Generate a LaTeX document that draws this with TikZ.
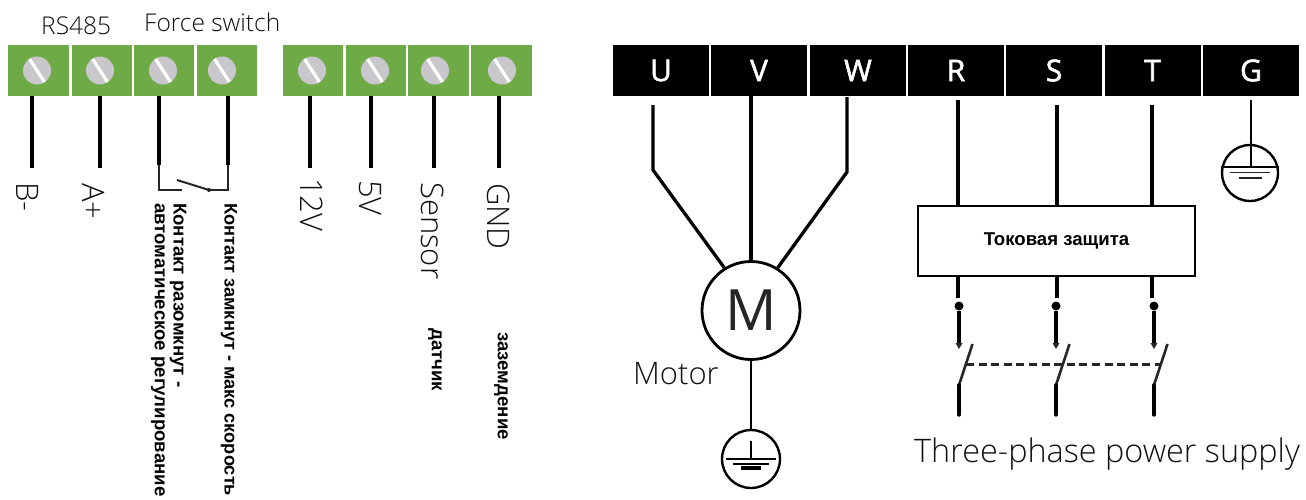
\documentclass[tikz,border=0pt]{standalone}
\usepackage{fontspec}
\setmainfont{Open Sans}
\newfontfamily\lightf{Open Sans Light}
\newfontfamily\semif[FakeBold=1.8]{Open Sans}
\newfontfamily\boldcyr{Liberation Sans}
\usetikzlibrary{calc,arrows.meta}
\definecolor{termgreen}{HTML}{6EAB46}
\definecolor{screwgray}{HTML}{C9C6CC}
\definecolor{lighttext}{HTML}{111111}
\tikzset{
  x=1pt,y=-1pt,
  termbox/.style={draw=none,fill=termgreen,minimum width=60.5pt,minimum height=51pt,inner sep=0,outer sep=0},
  screw/.style={circle,fill=screwgray,minimum size=28pt,inner sep=0,path picture={\draw[white,line width=3.2pt] ($(path picture bounding box.north west)+(3,-3)$) -- ($(path picture bounding box.south east)+(-3,3)$);}},
  phase/.style={fill=black,text=white,minimum width=96pt,minimum height=51pt,inner sep=0,outer sep=0,font=\semif\fontsize{30}{30}\selectfont},
  wire/.style={draw=black,line width=3.3pt},
  thinwire/.style={draw=black!85,line width=2.6pt},
  vlabel/.style={rotate=-90,anchor=west,inner sep=0,text=lighttext,font=\lightf\fontsize{31}{31}\selectfont},
  cyrlabel/.style={rotate=-90,anchor=west,inner sep=0,text=black,font=\boldcyr\fontsize{18.6}{18.6}\selectfont\bfseries},
  toplabel/.style={anchor=base west,inner sep=0,text=lighttext,font=\lightf\fontsize{24.5}{24.5}\selectfont},
  biglabel/.style={anchor=base west,inner sep=0,text=lighttext,font=\lightf\fontsize{31}{31}\selectfont},
  gcircle/.style={circle,draw=black,line width=2.4pt,inner sep=0,fill=white},
  tinydot/.style={circle,fill=black,inner sep=0,minimum size=9pt},
}
\begin{document}
\begin{tikzpicture}
\useasboundingbox (0,0) rectangle (1306,499);
\fill[white] (0,0) rectangle (1306,499);
% terminal blocks
\foreach \n/\cx/\sx in {a/38.5/37,b/102/100,c/164/163,d/227/222,e/313/312,f/376/375,g/438.5/435,h/501.5/502}{
  \node[termbox] (t\n) at (\cx,70.5) {};
  \node[screw] (s\n) at (\sx,70.5) {};
}
\node[toplabel] (rs) at (41,34) {RS485};
\node[toplabel] (fs) at (144,31) {Force switch};
% wire ends
\coordinate (wa) at (32,168);
\coordinate (wb) at (100,168);
\coordinate (we) at (310,168);
\coordinate (wf) at (371,168);
\coordinate (wg) at (434,168);
\coordinate (wh) at (499,168);
\foreach \n in {a,b,e,f,g,h} \draw[wire] (t\n.south -| w\n) -- (w\n);
% force switch
\coordinate (swl) at (159,190);
\coordinate (swle) at (182,190);
\coordinate (swr) at (228,190);
\coordinate (swrb) at (209,190);
\coordinate (swb) at (177,180);
\draw[wire] (tc.south -| swl) -- (159,165);
\draw[wire] (td.south -| swr) -- (228,165);
\draw[thinwire,line width=2pt] (159,165) -- (swl) -- (swle);
\draw[thinwire,line width=2pt] (228,165) -- (swr) -- (swrb);
\draw[thinwire,line width=2pt] (swb) -- (swrb);
\fill[black!85] (swrb) circle (2);
% vertical labels
\node[vlabel] (lb) at (28,182) {B-};
\node[vlabel] (la) at (94,183) {A+};
\node[vlabel] (l12) at (312,178) {12V};
\node[vlabel] (l5) at (370,180) {5V};
\node[vlabel] (ls) at (433,182) {Sensor};
\node[vlabel] (lg) at (499,183) {GND};
\node[cyrlabel] (c1) at (178,203) {Контакт разомкнут -};
\node[cyrlabel] (c2) at (158,203) {автоматическое регулирование};
\node[cyrlabel,font=\boldcyr\fontsize{18.2}{18.2}\selectfont\bfseries] (c3) at (229,203) {Контакт замкнут - макс скорость};
\node[cyrlabel] (c4) at (435,328) {датчик};
\node[cyrlabel] (c5) at (501,332) {заземдение};
% phase bar
\node[phase] (U) at (661,70.5) {U};
\node[phase] (V) at (759,70.5) {V};
\node[phase] (W) at (858,70.5) {W};
\node[phase] (R) at (956,70.5) {R};
\node[phase] (S) at (1054,70.5) {S};
\node[phase] (T) at (1152.5,70.5) {T};
\node[phase] (G) at (1251,70.5) {G};
% motor
\node[circle,draw=black,line width=2.8pt,minimum size=98pt,inner sep=0,fill=white,font=\fontsize{57}{57}\selectfont,text=black!85] (M) at (751,310.5) {M};
\node[biglabel] (mot) at (633,384) {Motor};
\coordinate (u0) at (653,105);
\coordinate (u1) at (653,170);
\coordinate (w0) at (847,97);
\coordinate (w1) at (847,172);
\draw[wire,line join=round] (u0) -- (u1) -- (M.122);
\draw[wire] (V.south -| M) -- (M.north);
\draw[wire,line join=round] (w0) -- (w1) -- (M.58);
% motor ground
\node[gcircle,minimum size=58pt] (g1) at (751,459) {};
\draw[line width=2.6pt,black] (M.south) -- (g1.north);
\draw[line width=2pt,black] (751,441) -- (751,459);
\draw[line width=2pt,black] (726,459) -- (776,459);
\draw[line width=2pt,black] (733,464) -- (769,464);
\draw[line width=3.5pt,black] (741,468) -- (761,468);
% G ground
\coordinate (g0) at (1251,100);
\node[gcircle,minimum size=56pt,fill=none] (g2) at (1250,173) {};
\draw[wire,line width=2.6pt] (g0) -- (1251,167);
\draw[line width=2pt,black] (1221,167) -- (1279,167);
\draw[line width=1.8pt,black!85] (1230,172.5) -- (1270,172.5);
\draw[line width=1.8pt,black!85] (1239,178) -- (1262,178);
% protection box
\node[draw=black,line width=2pt,minimum width=277pt,minimum height=70pt,inner sep=0,fill=white,font=\boldcyr\fontsize{18.6}{18.6}\selectfont\bfseries] (box) at (1056.5,241) {Токовая защита};
\coordinate (r0) at (958,100);
\coordinate (s0) at (1057,105);
\coordinate (t0) at (1152,105);
\foreach \p in {r,s,t} \draw[wire] (\p0) -- (box.north -| \p0);
% switches
\foreach \p/\x/\lx in {r/958/959,s/1057/1056,t/1152/1154}{
  \coordinate (\p1) at (\x,298);
  \coordinate (\p2) at (\lx,346);
  \coordinate (\p3) at (\lx+13.5,344);
  \coordinate (\p4) at (\lx,385);
  \coordinate (\p5) at (\lx,415);
  \draw[wire] (box.south -| \p1) -- (\p1);
  \node[tinydot] (\p d) at (\lx,306) {};
  \draw[wire] (\p d) -- (\p2);
  \fill[black!85] (\lx-3.5,343) -- (\lx+3.5,343) -- (\lx,349) -- cycle;
  \draw[thinwire] (\p3) -- (\p4);
  \draw[wire,line width=3.4pt,line cap=round] (\p4) -- (\p5);
}
\draw[black!85,line width=3pt,dash pattern=on 8pt off 4.6pt] (966,364.5) -- (1160,364.5);
\node[biglabel,font=\lightf\fontsize{32.4}{32.4}\selectfont] (tp) at (914,462) {Three-phase power supply};
\end{tikzpicture}
\end{document}
